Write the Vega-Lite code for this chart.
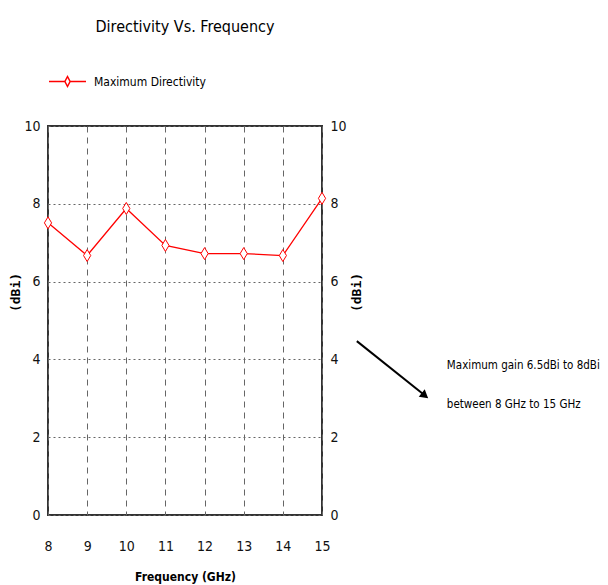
{
  "$schema": "https://vega.github.io/schema/vega-lite/v6.json",
  "width": 274,
  "height": 389,
  "autosize": "none",
  "padding": {"left": 48, "top": 126, "right": 286, "bottom": 70},
  "background": "white",
  "title": {
    "text": "Directivity Vs. Frequency",
    "anchor": "middle",
    "frame": "group",
    "font": "DejaVu Sans Condensed, Liberation Sans, sans-serif",
    "fontSize": 16,
    "fontWeight": "normal",
    "color": "#000",
    "offset": 27
  },
  "config": {
    "view": {"stroke": "#333", "strokeWidth": 2},
    "axis": {
      "labelFont": "DejaVu Sans Condensed, Liberation Sans, sans-serif",
      "labelFontSize": 14,
      "labelColor": "#111",
      "titleFont": "DejaVu Sans Condensed, Liberation Sans, sans-serif",
      "titleColor": "#000",
      "ticks": false,
      "domain": false,
      "labelFlush": false
    },
    "legend": {
      "labelFont": "DejaVu Sans Condensed, Liberation Sans, sans-serif",
      "labelFontSize": 12,
      "labelColor": "#000"
    }
  },
  "datasets": {
    "main": [
      {"freq": 8, "dir": 7.51, "series": "Maximum Directivity"},
      {"freq": 9, "dir": 6.67, "series": "Maximum Directivity"},
      {"freq": 10, "dir": 7.88, "series": "Maximum Directivity"},
      {"freq": 11, "dir": 6.93, "series": "Maximum Directivity"},
      {"freq": 12, "dir": 6.72, "series": "Maximum Directivity"},
      {"freq": 13, "dir": 6.72, "series": "Maximum Directivity"},
      {"freq": 14, "dir": 6.67, "series": "Maximum Directivity"},
      {"freq": 15, "dir": 8.14, "series": "Maximum Directivity"}
    ],
    "arrow": [
      {"x1": 15.89, "y1": 4.47, "x2": 17.63, "y2": 3.07}
    ],
    "notes": [
      {"x": 18.19, "y": 3.83, "text": "Maximum gain 6.5dBi to 8dBi"},
      {"x": 18.19, "y": 2.83, "text": "between 8 GHz to 15 GHz"}
    ]
  },
  "layer": [
    {
      "data": {"name": "main"},
      "mark": {"type": "line", "strokeWidth": 1.3},
      "encoding": {
        "x": {
          "field": "freq", "type": "quantitative",
          "scale": {"domain": [8, 15], "nice": false, "zero": false},
          "axis": {
            "values": [8, 9, 10, 11, 12, 13, 14, 15],
            "title": "Frequency (GHz)",
            "titleFontSize": 12,
            "titleFontWeight": "bold",
            "labelPadding": 24,
            "titlePadding": 18,
            "labelOverlap": false,
            "grid": true,
            "gridColor": "#666",
            "gridDash": [6, 5],
            "gridWidth": 1
          }
        },
        "y": {
          "field": "dir", "type": "quantitative",
          "scale": {"domain": [0, 10], "nice": false},
          "axis": {
            "values": [0, 2, 4, 6, 8, 10],
            "title": "(dBi)",
            "titleFont": "DejaVu Sans Mono",
            "titleFontSize": 13,
            "titleFontWeight": "bold",
            "titleAngle": 270,
            "titleX": -33,
            "titleY": 166,
            "titleBaseline": "middle",
            "titleAlign": "center",
            "labelPadding": 8,
            "grid": true,
            "gridColor": "#666",
            "gridDash": [2, 3],
            "gridWidth": 1
          }
        },
        "color": {
          "field": "series", "type": "nominal",
          "scale": {"range": ["#ff0000"]},
          "legend": {
            "title": null,
            "orient": "none",
            "legendX": 0,
            "legendY": -64,
            "symbolType": "M-1,0L-0.14,0M0.14,0L1,0M0,-0.27L0.14,0L0,0.27L-0.14,0Z",
            "symbolSize": 1369,
            "symbolStrokeWidth": 1.5,
            "symbolFillColor": "transparent",
            "labelOffset": 7
          }
        }
      }
    },
    {
      "data": {"name": "main"},
      "mark": {
        "type": "point",
        "shape": "M0,-1L0.6,0L0,1L-0.6,0Z",
        "size": 144,
        "filled": false,
        "stroke": "#ff0000",
        "strokeWidth": 1,
        "fill": "white",
        "fillOpacity": 1
      },
      "encoding": {
        "x": {
          "field": "freq", "type": "quantitative",
          "scale": {"domain": [8, 15], "nice": false, "zero": false},
          "axis": {
            "values": [8, 9, 10, 11, 12, 13, 14, 15],
            "title": "Frequency (GHz)",
            "titleFontSize": 12,
            "titleFontWeight": "bold",
            "labelPadding": 24,
            "titlePadding": 18,
            "labelOverlap": false,
            "grid": true,
            "gridColor": "#666",
            "gridDash": [6, 5],
            "gridWidth": 1
          }
        },
        "y": {
          "field": "dir", "type": "quantitative",
          "scale": {"domain": [0, 10], "nice": false},
          "axis": {
            "orient": "right",
            "values": [0, 2, 4, 6, 8, 10],
            "title": "(dBi)",
            "titleFont": "DejaVu Sans Mono",
            "titleFontSize": 13,
            "titleFontWeight": "bold",
            "titleAngle": 270,
            "titleX": 34,
            "titleY": 166,
            "titleBaseline": "middle",
            "titleAlign": "center",
            "labelPadding": 8,
            "grid": false
          }
        }
      }
    },
    {
      "data": {"name": "arrow"},
      "mark": {"type": "rule", "color": "#000", "strokeWidth": 2, "clip": false},
      "encoding": {
        "x": {
          "field": "x1", "type": "quantitative",
          "scale": {"domain": [8, 15], "nice": false, "zero": false},
          "axis": {
            "values": [8, 9, 10, 11, 12, 13, 14, 15],
            "title": "Frequency (GHz)",
            "titleFontSize": 12,
            "titleFontWeight": "bold",
            "labelPadding": 24,
            "titlePadding": 18,
            "labelOverlap": false,
            "grid": true,
            "gridColor": "#666",
            "gridDash": [6, 5],
            "gridWidth": 1
          }
        },
        "y": {"field": "y1", "type": "quantitative", "scale": {"domain": [0, 10], "nice": false}, "axis": null},
        "x2": {"field": "x2"},
        "y2": {"field": "y2"}
      }
    },
    {
      "data": {"name": "arrow"},
      "mark": {"type": "point", "shape": "triangle-right", "angle": 38.8, "size": 90, "filled": true, "color": "#000", "opacity": 1, "clip": false},
      "encoding": {
        "x": {
          "field": "x2", "type": "quantitative",
          "scale": {"domain": [8, 15], "nice": false, "zero": false},
          "axis": {
            "values": [8, 9, 10, 11, 12, 13, 14, 15],
            "title": "Frequency (GHz)",
            "titleFontSize": 12,
            "titleFontWeight": "bold",
            "labelPadding": 24,
            "titlePadding": 18,
            "labelOverlap": false,
            "grid": true,
            "gridColor": "#666",
            "gridDash": [6, 5],
            "gridWidth": 1
          }
        },
        "y": {"field": "y2", "type": "quantitative", "scale": {"domain": [0, 10], "nice": false}, "axis": null}
      }
    },
    {
      "data": {"name": "notes"},
      "mark": {
        "type": "text",
        "align": "left",
        "baseline": "middle",
        "font": "DejaVu Sans Condensed, Liberation Sans, sans-serif",
        "fontSize": 11.5,
        "color": "#000",
        "clip": false
      },
      "encoding": {
        "x": {
          "field": "x", "type": "quantitative",
          "scale": {"domain": [8, 15], "nice": false, "zero": false},
          "axis": {
            "values": [8, 9, 10, 11, 12, 13, 14, 15],
            "title": "Frequency (GHz)",
            "titleFontSize": 12,
            "titleFontWeight": "bold",
            "labelPadding": 24,
            "titlePadding": 18,
            "labelOverlap": false,
            "grid": true,
            "gridColor": "#666",
            "gridDash": [6, 5],
            "gridWidth": 1
          }
        },
        "y": {"field": "y", "type": "quantitative", "scale": {"domain": [0, 10], "nice": false}, "axis": null},
        "text": {"field": "text"}
      }
    }
  ],
  "resolve": {"axis": {"y": "independent"}}
}
